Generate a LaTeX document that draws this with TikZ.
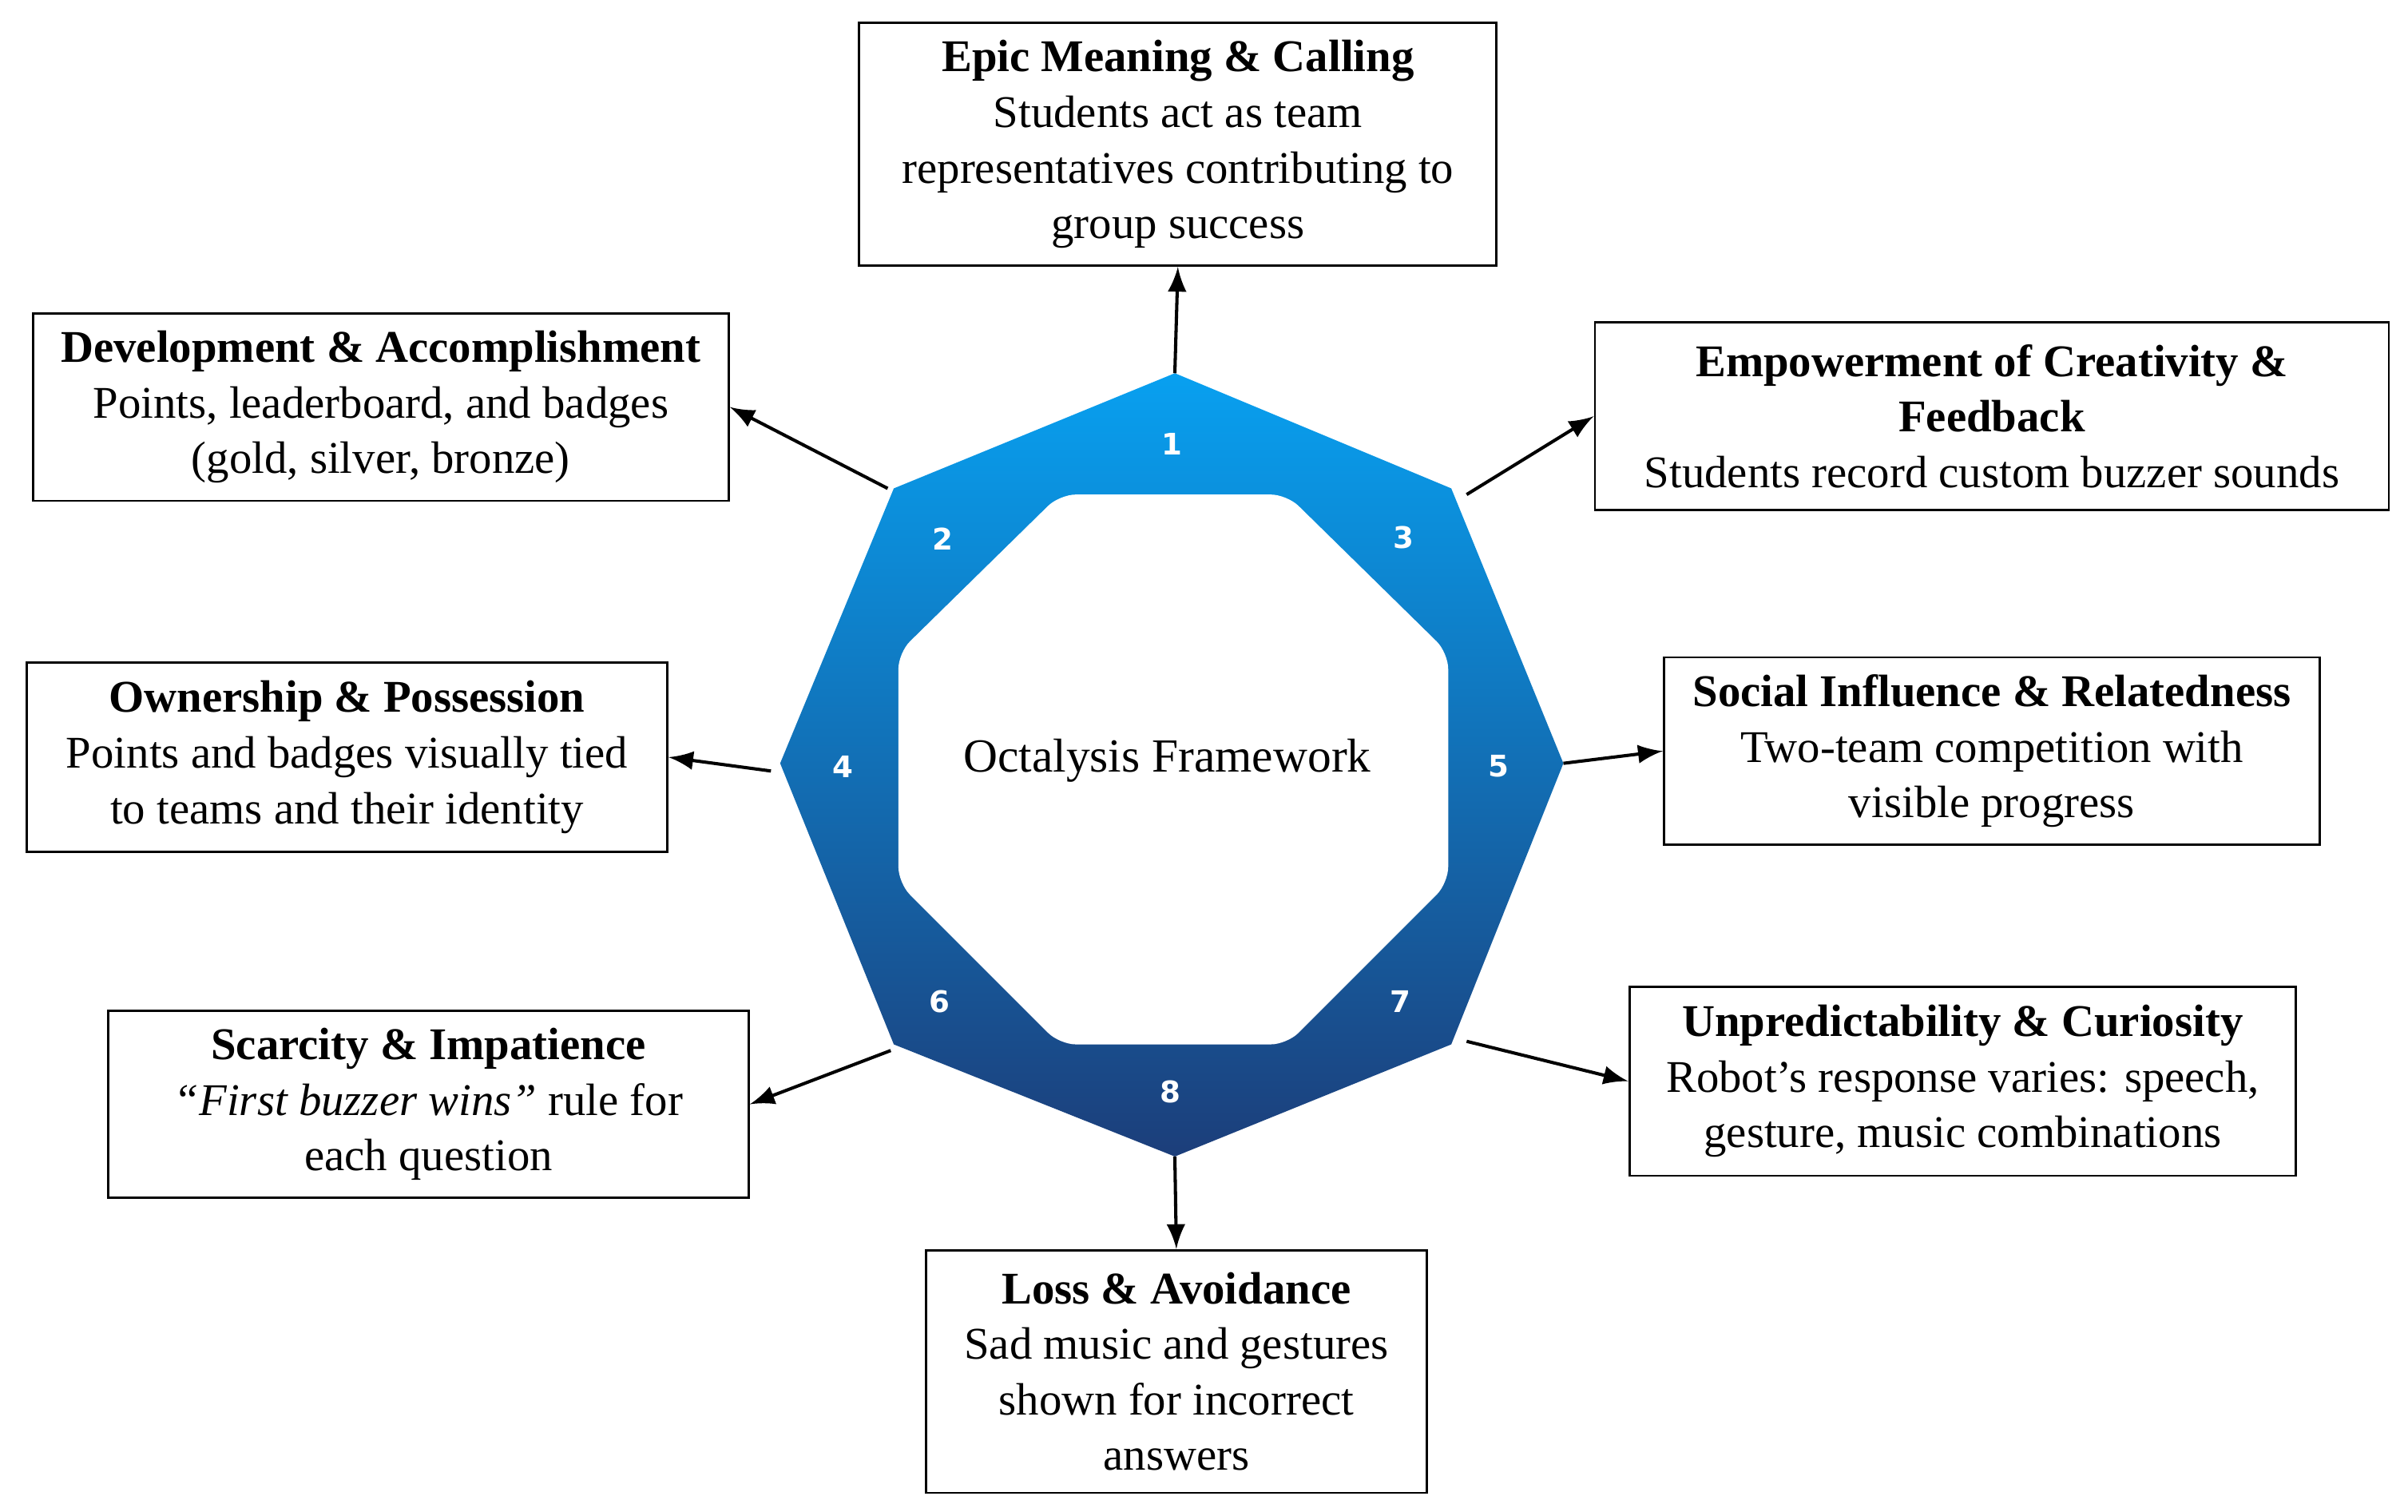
\documentclass[tikz,border=0pt]{standalone}
\usepackage{fontspec}
\setmainfont{Liberation Serif}
\newfontfamily\numfont{DejaVu Sans}
\usetikzlibrary{positioning,calc}
\definecolor{octtop}{RGB}{8,160,240}
\definecolor{octbot}{RGB}{28,62,122}
\tikzset{
  card/.style={thin, draw=black, fill=white, rectangle, inner sep=2pt, align=center, font=\fontsize{8.4}{10.3}\selectfont},
  num/.style={text=white, font=\numfont\bfseries\fontsize{5.5}{6}\selectfont},
  link/.style={draw=black, line width=0.6pt, -latex}
}
\begin{document}
\begin{tikzpicture}
\useasboundingbox (0,0) rectangle (15.68,-9.84);
%OCTAGON
\coordinate (v1) at (7.65,-2.43);
\coordinate (v3) at (9.45,-3.18);
\coordinate (v5) at (10.18,-4.97);
\coordinate (v7) at (9.45,-6.80);
\coordinate (v8) at (7.65,-7.53);
\coordinate (v6) at (5.82,-6.80);
\coordinate (v4) at (5.08,-4.97);
\coordinate (v2) at (5.82,-3.18);
\shade [top color=octtop, bottom color=octbot] (v1) -- (v3) -- (v5) -- (v7) -- (v8) -- (v6) -- (v4) -- (v2) -- cycle;
\fill [white, rounded corners=3pt] (6.90,-3.22) -- (8.38,-3.22) -- (9.43,-4.25) -- (9.43,-5.75) -- (8.38,-6.80) -- (6.90,-6.80) -- (5.85,-5.75) -- (5.85,-4.25) -- cycle;
\node (title) at (7.60,-4.95) [font=\fontsize{8.8}{10.5}\selectfont] {Octalysis Framework};
%NUMBERS
\node (n1) at (7.63,-2.89) [num] {1};
\node (n2) at (6.14,-3.51) [num] {2};
\node (n3) at (9.14,-3.50) [num] {3};
\node (n4) at (5.49,-4.99) [num] {4};
\node (n5) at (9.76,-4.99) [num] {5};
\node (n6) at (6.12,-6.52) [num] {6};
\node (n7) at (9.12,-6.52) [num] {7};
\node (n8) at (7.62,-7.11) [num] {8};
%CARDS
\node (epic) at (7.67,-0.94) [card, minimum width=4.15cm, minimum height=1.58cm] {\textbf{Epic Meaning \& Calling}\\Students act as team\\representatives contributing to\\group success};
\node (dev) at (2.48,-2.65) [card, minimum width=4.53cm, minimum height=1.22cm] {\textbf{Development \& Accomplishment}\\Points, leaderboard, and badges\\(gold, silver, bronze)};
\node (emp) at (12.97,-2.71) [card, minimum width=5.17cm, minimum height=1.22cm] {\textbf{Empowerment of Creativity \&}\\\textbf{Feedback}\\Students record custom buzzer sounds};
\node (own) at (2.26,-4.93) [card, minimum width=4.17cm, minimum height=1.23cm] {\textbf{Ownership \& Possession}\\Points and badges visually tied\\to teams and their identity};
\node (soc) at (12.97,-4.89) [card, minimum width=4.27cm, minimum height=1.22cm] {\textbf{Social Influence \& Relatedness}\\Two-team competition with\\visible progress};
\node (scar) at (2.79,-7.19) [card, minimum width=4.17cm, minimum height=1.22cm] {\textbf{Scarcity \& Impatience}\\\textit{``First buzzer wins''} rule for\\each question};
\node (unp) at (12.78,-7.04) [card, minimum width=4.34cm, minimum height=1.23cm] {\textbf{Unpredictability \& Curiosity}\\Robot's response varies: speech,\\gesture, music combinations};
\node (loss) at (7.66,-8.93) [card, minimum width=3.26cm, minimum height=1.58cm] {\textbf{Loss \& Avoidance}\\Sad music and gestures\\shown for incorrect\\answers};
%LINKS
\draw [link] (v1) -- (epic.south);
\draw [link] ($(v2)+(-0.04,0)$) -- (dev.east);
\draw [link] ($(v3)+(0.1,-0.04)$) -- (emp.west);
\draw [link] ($(v4)+(-0.06,-0.05)$) -- (own.east);
\draw [link] (v5) -- (soc.west);
\draw [link] ($(v6)+(-0.02,-0.04)$) -- (scar.east);
\draw [link] ($(v7)+(0.1,0.02)$) -- (unp.west);
\draw [link] (v8) -- (loss.north);
\end{tikzpicture}
\end{document}
